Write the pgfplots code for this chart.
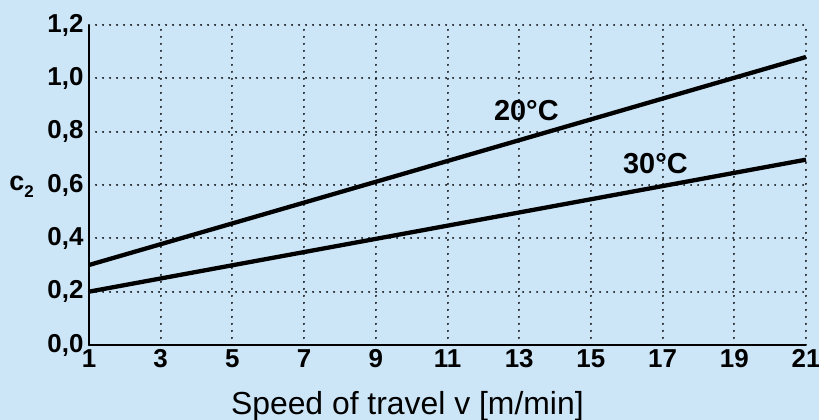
\documentclass[border=0pt]{standalone}
\usepackage{fontspec}
\setmainfont{Liberation Sans}
\usepackage{pgfplots}
\pgfplotsset{compat=1.18}
\definecolor{bgblue}{RGB}{204,230,248}
\begin{document}
\begin{tikzpicture}
\fill[bgblue] (-89bp,-75bp) rectangle (730bp,345bp);
\path[use as bounding box] (-89bp,-75bp) rectangle (730bp,345bp);
\begin{axis}[
  at={(0,0)}, anchor=south west,
  scale only axis, width=717bp, height=320bp,
  xmin=1, xmax=21, ymin=0, ymax=1.2,
  axis x line*=bottom, axis y line*=left,
  axis line style={line width=2.8bp, -},
  xtick={1,3,...,21},
  ytick={0,0.2,...,1.2},
  major tick length=0pt,
  grid=major,
  major grid style={black, line width=2bp, dash pattern=on 0.1bp off 6.9bp, line cap=round},
  /pgf/number format/assume math mode=true,
  yticklabel style={/pgf/number format/use comma, /pgf/number format/fixed, /pgf/number format/fixed zerofill, /pgf/number format/precision=1, xshift=-2bp},
  ticklabel style={font=\fontsize{26}{29}\selectfont\bfseries},
  xticklabel style={yshift=-1bp},
  xlabel={Speed of travel v [m/min]},
  xlabel style={at={(axis description cs:0.444,-0.19)}, anchor=center, font=\fontsize{32}{36}\selectfont},
  ylabel={c\raisebox{-0.45ex}{\fontsize{17}{17}\selectfont 2}},
  ylabel style={at={(axis description cs:-0.094,0.495)}, anchor=center, rotate=-90, font=\fontsize{27}{30}\selectfont\bfseries},
  clip=false,
]
\addplot[black, line width=4.3bp] coordinates {(1,0.30) (21,1.08)};
\addplot[black, line width=4.3bp] coordinates {(1,0.20) (21,0.695)};
\node[font=\fontsize{29}{32}\selectfont\bfseries] at (axis cs:13.2,0.88) {20°C};
\node[font=\fontsize{29}{32}\selectfont\bfseries] at (axis cs:16.8,0.68) {30°C};
\end{axis}
\end{tikzpicture}
\end{document}
